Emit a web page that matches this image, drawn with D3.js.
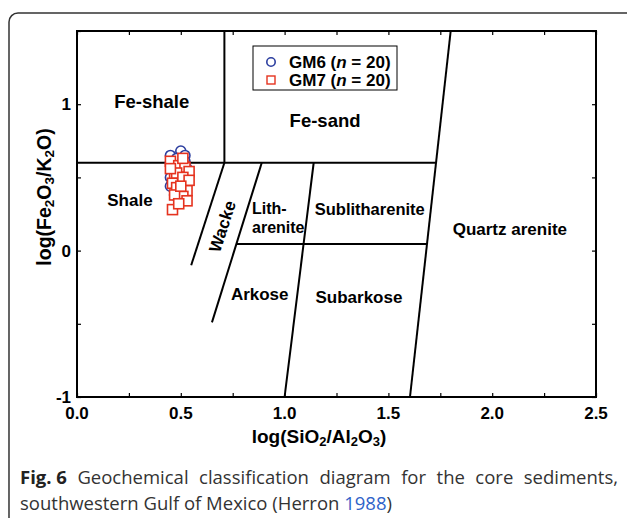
<!DOCTYPE html>
<html>
<head>
<meta charset="utf-8">
<script src="https://cdn.jsdelivr.net/npm/d3@7"></script>
<style>
  body { margin: 0; background: #fff; }
  #wrap { position: relative; width: 627px; height: 518px; overflow: hidden; }
  .caption { position: absolute; left: 20px; width: 598px; font-family: "Open Sans", sans-serif; font-size: 18.5px; color: #333; line-height: 24px; white-space: nowrap; }
  .caption b { color: #222; display: inline-block; }
  .cite { color: #2f63c9; }
</style>
</head>
<body>
<div id="wrap"></div>
<script>
// GM6 samples (circles): log(SiO2/Al2O3), log(Fe2O3/K2O)
const gm6X = [0.45, 0.50, 0.52, 0.52, 0.45, 0.48, 0.46, 0.45, 0.51, 0.53, 0.47, 0.50, 0.45, 0.49, 0.52, 0.47, 0.51, 0.48, 0.53, 0.49];
const gm6Y = [0.65, 0.68, 0.65, 0.61, 0.60, 0.63, 0.55, 0.50, 0.57, 0.52, 0.46, 0.52, 0.44, 0.41, 0.46, 0.38, 0.61, 0.58, 0.56, 0.50];
// GM7 samples (squares)
const gm7X = [0.45, 0.49, 0.52, 0.54, 0.47, 0.52, 0.46, 0.48, 0.53, 0.51, 0.53, 0.46, 0.48, 0.51, 0.45, 0.51, 0.47, 0.54, 0.49, 0.50];
const gm7Y = [0.61, 0.58, 0.57, 0.54, 0.52, 0.46, 0.46, 0.43, 0.41, 0.37, 0.34, 0.28, 0.53, 0.50, 0.56, 0.63, 0.38, 0.48, 0.32, 0.44];

// Herron (1988) field boundaries, data coords
const boundaries = [
  [[0, 0.6], [1.73, 0.6]],
  [[0.71, 0.6], [0.71, 1.5]],
  [[0.71, 0.6], [0.55, -0.1]],
  [[0.89, 0.6], [0.65, -0.49]],
  [[1.14, 0.6], [1.0, -1]],
  [[0.77, 0.045], [1.686, 0.045]],
  [[1.80, 1.5], [1.604, -1]]
];

// field names: [label, x, y]
const fields = [
  ["Fe-shale", 0.36, 1.02],
  ["Fe-sand", 1.195, 0.89],
  ["Shale", 0.255, 0.345],
  ["Wacke", 0.70, 0.165],
  ["Lith-", 0.843, 0.29],
  ["arenite", 0.843, 0.16],
  ["Sublitharenite", 1.41, 0.285],
  ["Quartz arenite", 2.085, 0.148],
  ["Arkose", 0.88, -0.297],
  ["Subarkose", 1.358, -0.317]
];

const xTicks = [0, 0.5, 1.0, 1.5, 2.0, 2.5];
const yTicks = [-1, 0, 1];

const width = 627, height = 518;
const font = "Arial, 'Liberation Sans', sans-serif";

const wrap = d3.select("#wrap");
const svg = wrap.append("svg")
  .attr("width", width)
  .attr("height", height);

// outer panel border
svg.append("rect")
  .attr("x", 9).attr("y", 13)
  .attr("width", 640).attr("height", 530)
  .attr("rx", 9)
  .attr("fill", "none")
  .attr("stroke", "#333")
  .attr("stroke-width", 1.5);

const xScale = d3.scaleLinear().domain([0, 2.5]).range([77, 596]);
const yScale = d3.scaleLinear().domain([-1, 1.5]).range([397, 31]);

// inward ticks on all sides
const tickLen = 4;
svg.append("g")
  .attr("transform", `translate(0,${yScale(-1)})`)
  .call(d3.axisTop(xScale).tickValues(d3.range(0, 2.51, 0.25)).tickSize(tickLen).tickFormat(""))
  .call(g => g.select(".domain").remove());
svg.append("g")
  .attr("transform", `translate(0,${yScale(1.5)})`)
  .call(d3.axisBottom(xScale).tickValues(d3.range(0, 2.51, 0.25)).tickSize(tickLen).tickFormat(""))
  .call(g => g.select(".domain").remove());
svg.append("g")
  .attr("transform", `translate(${xScale(0)},0)`)
  .call(d3.axisRight(yScale).tickValues(d3.range(-1, 1.51, 0.5)).tickSize(tickLen).tickFormat(""))
  .call(g => g.select(".domain").remove());
svg.append("g")
  .attr("transform", `translate(${xScale(2.5)},0)`)
  .call(d3.axisLeft(yScale).tickValues(d3.range(-1, 1.51, 0.5)).tickSize(tickLen).tickFormat(""))
  .call(g => g.select(".domain").remove());
svg.selectAll(".tick line").attr("stroke", "#000").attr("stroke-width", 1.2);

// tick labels
svg.selectAll(".xlab")
  .data(xTicks)
  .enter()
  .append("text")
  .attr("x", d => xScale(d))
  .attr("y", yScale(-1) + 22)
  .attr("text-anchor", "middle")
  .style("font", `bold 17px ${font}`)
  .text(d => d.toFixed(1));

svg.selectAll(".ylab")
  .data(yTicks)
  .enter()
  .append("text")
  .attr("x", xScale(0) - 6)
  .attr("y", d => yScale(d) + 6)
  .attr("text-anchor", "end")
  .style("font", `bold 17px ${font}`)
  .text(d => d);

// frame
svg.append("rect")
  .attr("x", xScale(0)).attr("y", yScale(1.5))
  .attr("width", xScale(2.5) - xScale(0))
  .attr("height", yScale(-1) - yScale(1.5))
  .attr("fill", "none")
  .attr("stroke", "#000")
  .attr("stroke-width", 2);

// boundaries
const line = d3.line().x(d => xScale(d[0])).y(d => yScale(d[1]));
svg.selectAll(".bnd")
  .data(boundaries)
  .enter()
  .append("path")
  .attr("d", line)
  .attr("fill", "none")
  .attr("stroke", "#000")
  .attr("stroke-width", 2);

// field labels
const sizes = { "Fe-shale": 18.5, "Fe-sand": 18.5, "Sublitharenite": 16.5, "Lith-": 16, "arenite": 16 };
svg.selectAll(".field")
  .data(fields)
  .enter()
  .append("text")
  .attr("transform", d => `translate(${xScale(d[1])},${yScale(d[2])}) rotate(${d[0] === "Wacke" ? -72 : 0})`)
  .attr("dy", "0.35em")
  .attr("text-anchor", d => d[0] === "Lith-" || d[0] === "arenite" ? "start" : "middle")
  .style("font", d => `bold ${sizes[d[0]] || 17}px ${font}`)
  .text(d => d[0]);

// data points
const gm6 = gm6X.map((x, i) => ({ x, y: gm6Y[i] }));
const gm7 = gm7X.map((x, i) => ({ x, y: gm7Y[i] }));
const blue = "#2c3e9f", red = "#e5331f";

svg.selectAll(".gm6")
  .data(gm6)
  .enter()
  .append("circle")
  .attr("cx", d => xScale(d.x))
  .attr("cy", d => yScale(d.y))
  .attr("r", 5)
  .attr("fill", "#fff")
  .attr("stroke", blue)
  .attr("stroke-width", 1.6);

const sq = 10;
svg.selectAll(".gm7")
  .data(gm7)
  .enter()
  .append("rect")
  .attr("x", d => xScale(d.x) - sq / 2)
  .attr("y", d => yScale(d.y) - sq / 2)
  .attr("width", sq).attr("height", sq)
  .attr("fill", "#fff")
  .attr("stroke", red)
  .attr("stroke-width", 1.6);

// legend
const legend = svg.append("g");
legend.append("rect")
  .attr("x", 253).attr("y", 46)
  .attr("width", 144).attr("height", 44)
  .attr("fill", "#fff")
  .attr("stroke", "#000")
  .attr("stroke-width", 1);
legend.append("circle")
  .attr("cx", 271).attr("cy", 62).attr("r", 4.2)
  .attr("fill", "none").attr("stroke", blue).attr("stroke-width", 1.6);
legend.append("rect")
  .attr("x", 267).attr("y", 76).attr("width", 8).attr("height", 8)
  .attr("fill", "none").attr("stroke", red).attr("stroke-width", 1.4);
[["GM6", 62], ["GM7", 80]].forEach(([name, y]) => {
  const t = legend.append("text")
    .attr("x", 289).attr("y", y + 6)
    .style("font", `bold 17px ${font}`);
  t.append("tspan").text(name + " (");
  t.append("tspan").style("font-style", "italic").text("n");
  t.append("tspan").text(" = 20)");
});

// axis titles with subscripts: digits in parts are drawn lowered and smaller
function chem(sel, parts, subSize) {
  let shift = 0;
  parts.forEach(p => {
    const isSub = /^\d$/.test(p);
    const target = isSub ? 3 : 0;
    const t = sel.append("tspan").attr("dy", target - shift).text(p);
    if (isSub) t.style("font-size", subSize + "px");
    shift = target;
  });
}

const xTitle = svg.append("text")
  .attr("x", 319)
  .attr("y", 443)
  .attr("text-anchor", "middle")
  .style("font", `bold 19px ${font}`);
chem(xTitle, ["log(SiO", "2", "/Al", "2", "O", "3", ")"], 13);

const yTitle = svg.append("text")
  .attr("transform", `translate(51,197) rotate(-90)`)
  .attr("text-anchor", "middle")
  .style("font", `bold 19.5px ${font}`);
chem(yTitle, ["log(Fe", "2", "O", "3", "/K", "2", "O)"], 13.5);

// caption
wrap.append("div")
  .attr("class", "caption")
  .style("top", "465px")
  .style("text-align", "justify")
  .style("text-align-last", "justify")
  .style("white-space", "normal")
  .html("<b>Fig. 6</b> Geochemical classification diagram for the core sediments,");
wrap.append("div")
  .attr("class", "caption")
  .style("top", "491px")
  .html('southwestern Gulf of Mexico (Herron <span class="cite">1988</span>)');
</script>
</body>
</html>
